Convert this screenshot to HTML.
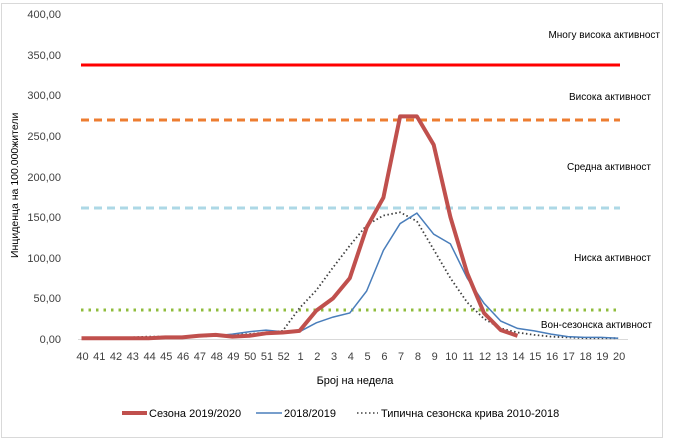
<!DOCTYPE html>
<html><head><meta charset="utf-8"><style>
body{margin:0;background:#fff;}
svg{display:block;font-family:"Liberation Sans",sans-serif;}
</style></head><body>
<svg id="c" width="675" height="445" xmlns="http://www.w3.org/2000/svg">
<rect x="1.5" y="3.5" width="661" height="434" fill="#fff" stroke="#d9d9d9"/>
<g font-size="11" fill="#404040" text-anchor="end">
<text x="61" y="18">400,00</text>
<text x="61" y="59">350,00</text>
<text x="61" y="99">300,00</text>
<text x="61" y="140">250,00</text>
<text x="61" y="181">200,00</text>
<text x="61" y="221">150,00</text>
<text x="61" y="262">100,00</text>
<text x="61" y="302">50,00</text>
<text x="61" y="343">0,00</text>
</g>
<text transform="translate(18,258) rotate(-90)" font-size="10.5" fill="#000">Инциденца на 100.000жители</text>
<line x1="78" y1="339.5" x2="628" y2="339.5" stroke="#d9d9d9"/>
<line x1="81" y1="65" x2="620" y2="65" stroke="#ff0000" stroke-width="3"/>
<line x1="81" y1="120" x2="620" y2="120" stroke="#ed7d31" stroke-width="3" stroke-dasharray="8,5"/>
<line x1="81" y1="208" x2="620" y2="208" stroke="#add8e6" stroke-width="3" stroke-dasharray="8,5"/>
<line x1="81" y1="310" x2="620" y2="310" stroke="#8fbc3c" stroke-width="3" stroke-dasharray="2.5,5"/>
<g font-size="10" fill="#000" text-anchor="end">
<text x="660" y="38">Многу висока активност</text>
<text x="651" y="100">Висока активност</text>
<text x="651" y="170">Средна активност</text>
<text x="651" y="261">Ниска активност</text>
<text x="652" y="328">Вон-сезонска активност</text>
</g>
<g id="series"></g>
<g id="xl" font-size="11" fill="#404040" text-anchor="middle"></g>
<text x="355" y="384" font-size="11" fill="#000" text-anchor="middle">Број на недела</text>
<line x1="122" y1="413" x2="147" y2="413" stroke="#c0504d" stroke-width="4"/>
<text x="149" y="417" font-size="11" fill="#000">Сезона 2019/2020</text>
<line x1="256" y1="413" x2="282" y2="413" stroke="#4a7ebb" stroke-width="1.5"/>
<text x="284" y="417" font-size="11" fill="#000">2018/2019</text>
<line x1="357" y1="413" x2="378" y2="413" stroke="#404040" stroke-width="1.5" stroke-dasharray="1.5,2.5"/>
<text x="381" y="417" font-size="11" fill="#000">Типична сезонска крива 2010-2018</text>
</svg>
<script>
var x0=81.5,dx=16.77,y0=339,k=0.8125;
var labs=[];for(var i=40;i<=52;i++)labs.push(i);for(var i=1;i<=20;i++)labs.push(i);
var xl=document.getElementById('xl'),s='';
labs.forEach(function(l,i){s+='<text x="'+(x0+i*dx+1).toFixed(1)+'" y="360">'+l+'</text>';});
xl.innerHTML=s;
function pts(a){return a.map(function(v,i){return (x0+i*dx).toFixed(1)+','+(y0-v*k).toFixed(1)}).join(' ');}
var red=[1,1,1,1,1,2,2,4,5,3,4,7,8,10,35,50,75,137,174,274,274,239,150,81,32,11,4];
var blue=[1,1,1,2,2,3,3,4,4,6,9,11,9,9,20,27,32,59,109,142,155,129,117,75,44,22,13,10,6,3,2,2,1];
var dot=[1,1,2,2,3,3,3,3,4,5,6,8,10,38,60,88,115,140,152,156,145,110,75,45,25,13,8,5,3,2,1,1,1];
document.getElementById('series').innerHTML=
'<polyline fill="none" stroke="#404040" stroke-width="1.8" stroke-dasharray="1.5,2.5" points="'+pts(dot)+'"/>'+
'<polyline fill="none" stroke="#4a7ebb" stroke-width="1.5" points="'+pts(blue)+'"/>'+
'<polyline fill="none" stroke="#c0504d" stroke-width="4" stroke-linejoin="round" points="'+pts(red)+'"/>';
</script>
</body></html>
